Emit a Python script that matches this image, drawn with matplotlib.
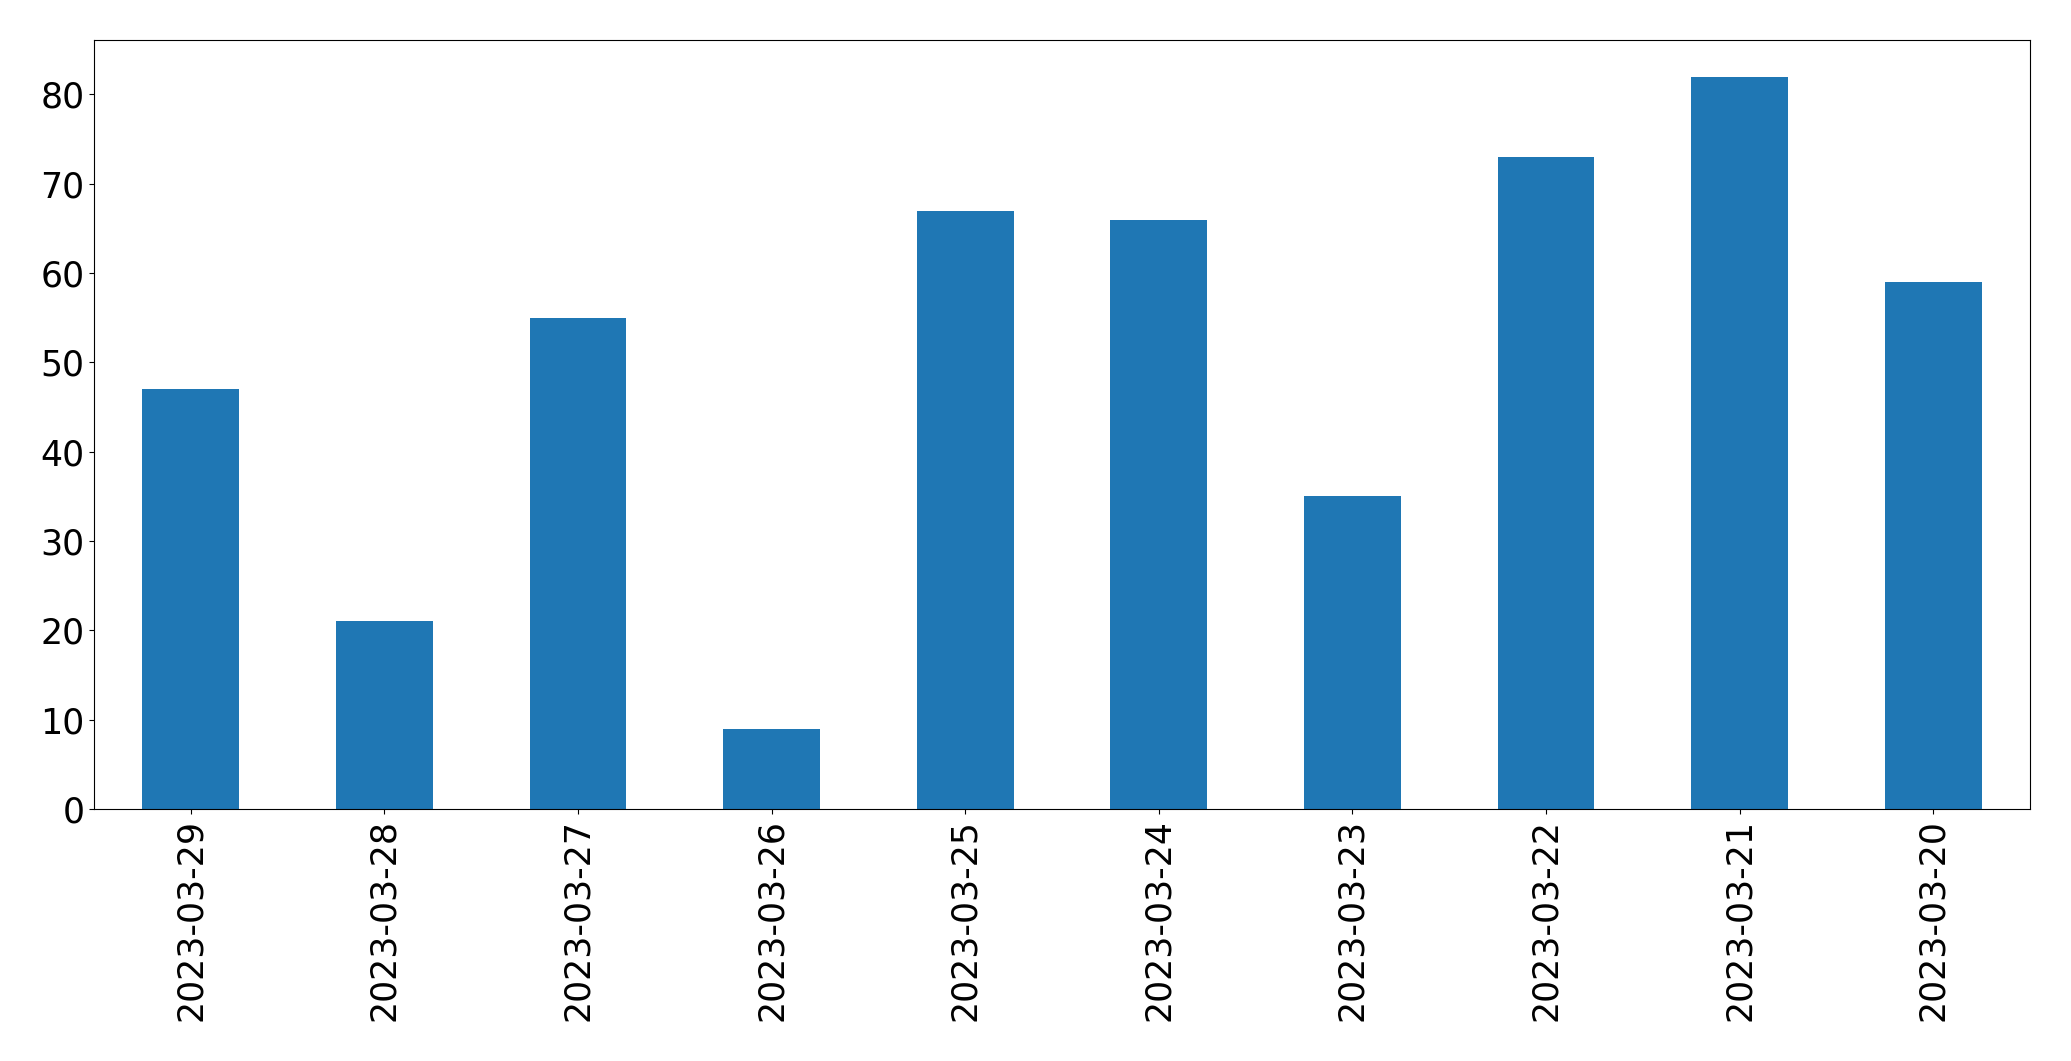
import matplotlib
matplotlib.use("Agg")
import matplotlib.pyplot as plt

dates = ["2023-03-29", "2023-03-28", "2023-03-27", "2023-03-26", "2023-03-25",
         "2023-03-24", "2023-03-23", "2023-03-22", "2023-03-21", "2023-03-20"]
values = [47, 21, 55, 9, 67, 66, 35, 73, 82, 59]

fig = plt.figure(figsize=(20.71, 10.61), dpi=100)
ax = fig.add_axes([94/2071, 1 - 809/1061, (2030-94)/2071, (809-40)/1061])
x = list(range(len(dates)))
ax.bar(x, values, width=0.5, color="#1f77b4")
ax.set_xlim(-0.5, len(dates) - 0.5)
ax.set_ylim(0, max(values) * 1.05)
ax.set_xticks(x)
ax.set_xticklabels(dates, rotation=90)
ax.tick_params(labelsize=25)
fig.savefig("out.png", dpi=100)
